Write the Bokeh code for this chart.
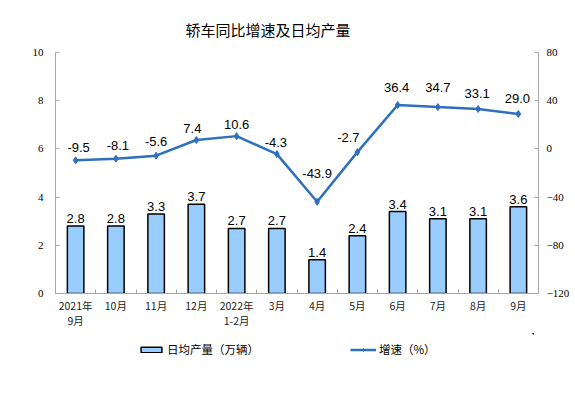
from bokeh.plotting import figure
from bokeh.layouts import column
from bokeh.models import (Range1d, LinearAxis, FixedTicker, ColumnDataSource,
                          Legend, LegendItem)
from bokeh.embed import file_html
from bokeh.resources import INLINE
from bokeh.core.properties import value

# ---- data ----
categories = ["2021年\n9月", "10月", "11月", "12月", "2022年\n1-2月", "3月",
              "4月", "5月", "6月", "7月", "8月", "9月"]
daily_output = [2.8, 2.8, 3.3, 3.7, 2.7, 2.7, 1.4, 2.4, 3.4, 3.1, 3.1, 3.6]
growth = [-9.5, -8.1, -5.6, 7.4, 10.6, -4.3, -43.9, -2.7, 36.4, 34.7, 33.1, 29.0]
left_ticks = [0, 2, 4, 6, 8, 10]
right_ticks = [-120, -80, -40, 0, 40, 80]
series_names = ["日均产量（万辆）", "增速（%）"]

# label placement (pixels) for growth labels
growth_label_dy = [13, 13, 14, 11, 12, 12, 28, 15, 18, 20, 16, 15]
growth_label_dx = [3, 2, 0, -4, 0, -1, 0, -9, -1, 0, -1, -1]

BAR_COLOR = "#99CCFF"
LINE_COLOR = "#2E6FBE"
AXIS_COLOR = "#A6A6A6"

n = len(categories)
xs = [i + 0.5 for i in range(n)]

src = ColumnDataSource(dict(
    x=xs, out=daily_output, g=growth,
    out_lbl=[f"{v:.1f}" for v in daily_output],
    g_lbl=[f"{v:.1f}" for v in growth],
    gdy=[-d for d in growth_label_dy], gdx=growth_label_dx,
))

p = figure(frame_width=483, frame_height=241, output_backend="svg",
           toolbar_location=None,
           x_range=Range1d(0, n), y_range=Range1d(0, 10),
           min_border_left=55, min_border_right=29, min_border_top=52,
           min_border_bottom=40, outline_line_color=None)
p.extra_y_ranges = {"g": Range1d(-120, 80)}
p.xgrid.visible = False
p.ygrid.visible = False

p.title.text = "轿车同比增速及日均产量"
p.title.text_font = "Noto Sans CJK SC"
p.title.text_font_size = "15px"
p.title.text_font_style = "normal"
p.title.text_color = "#000000"
p.title.align = "left"
p.title.offset = 130
p.title.standoff = 26

# x axis
xa = p.xaxis[0]
xa.ticker = FixedTicker(ticks=xs, minor_ticks=list(range(n + 1)))
xa.major_label_overrides = {x: c for x, c in zip(xs, categories)}
xa.major_tick_line_color = None
xa.minor_tick_in = 4
xa.minor_tick_out = 0
xa.minor_tick_line_color = AXIS_COLOR
xa.axis_line_color = AXIS_COLOR
xa.major_label_text_font = "Noto Sans CJK SC"
xa.major_label_text_font_size = "10.5px"
xa.major_label_text_color = "#222222"
xa.major_label_text_line_height = 1.0
xa.major_label_standoff = -2

# left y axis
ya = p.yaxis[0]
ya.ticker = FixedTicker(ticks=left_ticks)
ya.minor_tick_line_color = None
ya.major_tick_in = 4
ya.major_tick_out = 0
ya.major_tick_line_color = AXIS_COLOR
ya.axis_line_color = AXIS_COLOR
ya.major_label_text_font = "Liberation Serif"
ya.major_label_text_font_size = "11px"
ya.major_label_text_color = "#000000"
ya.major_label_standoff = 12

# right y axis
ra = LinearAxis(y_range_name="g", ticker=FixedTicker(ticks=right_ticks))
ra.minor_tick_line_color = None
ra.major_tick_in = 4
ra.major_tick_out = 0
ra.major_tick_line_color = AXIS_COLOR
ra.axis_line_color = AXIS_COLOR
ra.major_label_text_font = "Liberation Serif"
ra.major_label_text_font_size = "11px"
ra.major_label_text_color = "#000000"
ra.major_label_standoff = 8
p.add_layout(ra, "right")

# bars
p.vbar(x="x", top="out", width=0.41, bottom=0, source=src,
       fill_color=BAR_COLOR, line_color="#000000", line_width=1.5)
p.text(x="x", y="out", text="out_lbl", source=src, text_align="center",
       text_baseline="bottom", y_offset=-3,
       text_font=value("Liberation Sans"), text_font_size="13px",
       text_color="#000000")

# line
p.line(x="x", y="g", source=src, y_range_name="g",
       line_color=LINE_COLOR, line_width=2.5)
p.scatter(x="x", y="g", source=src, y_range_name="g", marker="diamond",
          size=7, fill_color=LINE_COLOR, line_color=LINE_COLOR)
p.text(x="x", y="g", text="g_lbl", source=src, y_range_name="g",
       text_align="center", text_baseline="middle", y_offset="gdy",
       x_offset="gdx", text_font=value("Liberation Sans"),
       text_font_size="13px", text_color="#000000")

# ---- legend strip (separate figure below the chart) ----
# the same series are drawn here outside the visible range, only so that the
# legend has glyphs to show
lg = figure(width=567, height=48, output_backend="svg", toolbar_location=None,
            x_axis_type=None, y_axis_type=None, outline_line_color=None,
            min_border=0, x_range=Range1d(-200, -199),
            y_range=Range1d(-200, -199))
lb = lg.vbar(x="x", top="out", width=0.41, source=src,
             fill_color=BAR_COLOR, line_color="#000000", line_width=1.5)
ll = lg.line(x="x", y="g", source=src, line_color=LINE_COLOR, line_width=2.5)
lp = lg.scatter(x="x", y="g", source=src, marker="diamond", size=7,
                fill_color=LINE_COLOR, line_color=LINE_COLOR)

legend = Legend(items=[
    LegendItem(label=series_names[0], renderers=[lb]),
    LegendItem(label=series_names[1], renderers=[ll, lp]),
], orientation="horizontal", location=(83, 24))
legend.label_text_font = "Noto Sans CJK SC"
legend.label_text_font_size = "11.5px"
legend.label_text_color = "#000000"
legend.glyph_width = 26
legend.glyph_height = 7
legend.spacing = 91
legend.label_standoff = 3
legend.border_line_color = None
legend.background_fill_alpha = 0
legend.margin = 0
legend.padding = 0
lg.add_layout(legend, "center")

layout = column(p, lg, spacing=0)
open("out.html", "w").write(file_html(layout, INLINE))
